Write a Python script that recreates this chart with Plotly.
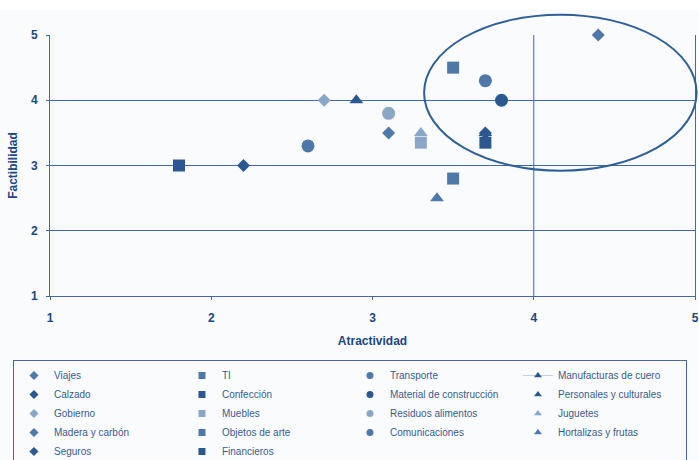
import plotly.graph_objects as go

# Sectores evaluados: atractividad (eje X) y factibilidad (eje Y)
sectores = [
    "Viajes", "Calzado", "Gobierno", "Madera y carbón", "Seguros",
    "TI", "Confección", "Muebles", "Objetos de arte", "Financieros",
    "Transporte", "Material de construcción", "Residuos alimentos", "Comunicaciones",
    "Manufacturas de cuero", "Personales y culturales", "Juguetes", "Hortalizas y frutas",
]
atractividad = [
    4.4, 2.2, 2.7, 3.1, 3.7,
    3.5, 1.8, 3.3, 3.5, 3.7,
    3.7, 3.8, 3.1, 2.6,
    2.9, 3.7, 3.3, 3.4,
]
factibilidad = [
    5.0, 3.0, 4.0, 3.5, 3.5,
    4.5, 3.0, 3.35, 2.8, 3.35,
    4.3, 4.0, 3.8, 3.3,
    4.0, 3.5, 3.5, 2.5,
]
simbolos = (["diamond"] * 5 + ["square"] * 5 + ["circle"] * 4 + ["triangle-up"] * 4)
tonos = [
    "medio", "oscuro", "claro", "medio", "oscuro",
    "medio", "oscuro", "claro", "medio", "oscuro",
    "medio", "oscuro", "claro", "medio",
    "oscuro", "oscuro", "claro", "medio",
]
ticks = [1, 2, 3, 4, 5]

PALETA = {"oscuro": "#2b5891", "medio": "#4e78a7", "claro": "#8ba7c8"}
TAMANO = {"diamond": 10, "square": 12, "circle": 13, "triangle-up": 12}
TEXTO = "#1d4683"
LINEA = "#4369a0"
FONDO = "#f9fbfd"
FUENTE = "Liberation Sans, Arial, sans-serif"

fig = go.Figure()

# Puntos del gráfico (sin entrada de leyenda propia)
for nombre, x, y, s, t in zip(sectores, atractividad, factibilidad, simbolos, tonos):
    fig.add_trace(go.Scatter(
        x=[x], y=[y], mode="markers", name=nombre, showlegend=False,
        cliponaxis=False, hoverinfo="name+x+y",
        marker=dict(symbol=s, size=TAMANO[s], color=PALETA[t], line=dict(width=0)),
    ))

# Entradas de leyenda en 4 columnas (orden por columnas, llenado por filas)
columnas = [sectores[0:5], sectores[5:10], sectores[10:14], sectores[14:18]]
for fila in range(5):
    for col in columnas:
        if fila < len(col):
            i = sectores.index(col[fila])
            con_linea = col[fila] == "Manufacturas de cuero"
            fig.add_trace(go.Scatter(
                x=[None], y=[None], name=col[fila],
                mode="lines+markers" if con_linea else "markers",
                line=dict(color="#c3d0e0", width=1),
                marker=dict(symbol=simbolos[i], size=7, color=PALETA[tonos[i]], line=dict(width=0)),
            ))

fig.update_layout(
    width=699, height=460,
    margin=dict(l=50, r=4, t=35, b=164, autoexpand=False),
    paper_bgcolor=FONDO, plot_bgcolor=FONDO,
    font=dict(family=FUENTE, color=TEXTO, size=11),
    showlegend=True,
    legend=dict(
        orientation="h", x=-0.0574, xanchor="left", y=-0.2452, yanchor="top",
        entrywidth=123, entrywidthmode="pixels",
        bgcolor=FONDO, bordercolor=LINEA, borderwidth=1,
        font=dict(family=FUENTE, size=10, color="#3a5b8c"),
        tracegroupgap=0, itemclick=False,
    ),
    xaxis=dict(
        range=[1, 5], tickvals=ticks, showgrid=False, zeroline=False,
        showline=True, linecolor=LINEA, linewidth=1,
        ticks="outside", ticklen=3, tickcolor=LINEA,
        ticklabelstandoff=8,
        tickfont=dict(family=FUENTE, size=12, color=TEXTO, weight="bold"),
        title=dict(text="<b>Atractividad</b>", font=dict(family=FUENTE, size=12, color=TEXTO), standoff=12),
    ),
    yaxis=dict(
        range=[1, 5], tickvals=ticks, showgrid=True, gridcolor=LINEA, gridwidth=1,
        zeroline=False, showline=True, mirror=True, linecolor=LINEA, linewidth=1,
        ticks="outside", ticklen=3, tickcolor=LINEA,
        ticklabelstandoff=6,
        tickfont=dict(family=FUENTE, size=12, color=TEXTO, weight="bold"),
        title=dict(text="<b>Factibilidad</b>", font=dict(family=FUENTE, size=12, color=TEXTO), standoff=10),
    ),
    shapes=[
        # franja blanca superior
        dict(type="rect", xref="paper", yref="paper", x0=-0.08, x1=1.01, y0=1.0958, y1=1.2,
             fillcolor="white", line=dict(width=0), layer="below"),
        # división de cuadrantes en atractividad = 4
        dict(type="line", xref="x", yref="y domain", x0=4, x1=4, y0=0, y1=1,
             line=dict(color=LINEA, width=1), layer="below"),
        # zona resaltada
        dict(type="circle", xref="x domain", yref="y domain",
             x0=0.58, x1=1.0025, y0=0.48, y1=1.078,
             line=dict(color="#2f5f96", width=2), layer="above"),
    ],
)

fig.write_html("out.html")
